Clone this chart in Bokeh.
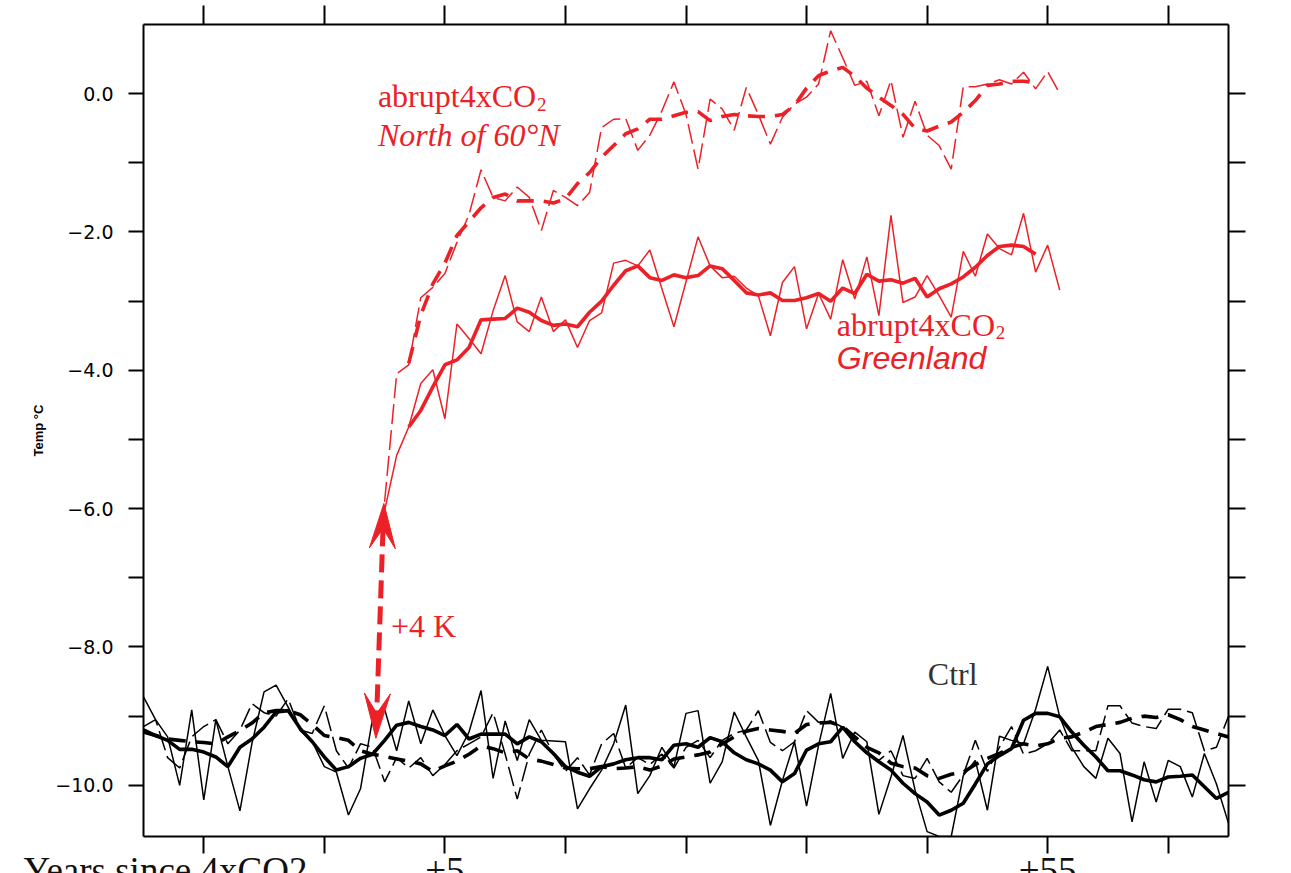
import math
from bokeh.plotting import figure
from bokeh.models import (Range1d, LinearAxis, FixedTicker, Label, CustomJSTickFormatter)
from bokeh.embed import file_html
from bokeh.resources import INLINE

RED = "#EC2127"

# ---------------- data ----------------
years_4x = list(range(0, 57))
years_4x_smooth = list(range(2, 55))
years_ctrl = list(range(-20, 71))

greenland_annual = [-6.03, -5.23, -4.82, -4.19, -3.99, -4.70, -3.33, -3.54, -3.76, -3.14,
                    -2.63, -3.30, -3.44, -2.94, -3.44, -3.27, -3.67, -3.28, -3.17, -2.45,
                    -2.41, -2.49, -2.26, -2.82, -3.37, -2.72, -2.07, -2.49, -2.66, -2.64,
                    -2.81, -2.92, -3.50, -2.73, -2.50, -3.40, -2.89, -3.26, -2.40, -2.97,
                    -2.36, -3.21, -1.76, -3.02, -2.94, -2.63, -2.92, -3.23, -2.28, -2.64,
                    -2.03, -2.24, -2.33, -1.73, -2.58, -2.19, -2.84]
greenland_smooth = [-4.82, -4.58, -4.24, -3.92, -3.85, -3.67, -3.27, -3.26, -3.25, -3.10,
                    -3.16, -3.28, -3.35, -3.33, -3.37, -3.16, -3.00, -2.77, -2.56, -2.49,
                    -2.66, -2.70, -2.62, -2.66, -2.63, -2.49, -2.53, -2.70, -2.88, -2.91,
                    -2.88, -2.99, -2.99, -2.95, -2.89, -3.00, -2.81, -2.89, -2.61, -2.71,
                    -2.69, -2.74, -2.67, -2.94, -2.82, -2.75, -2.65, -2.51, -2.34, -2.21,
                    -2.19, -2.21, -2.32]
n60_annual = [-5.90, -4.05, -3.92, -2.95, -2.80, -2.60, -2.15, -1.75, -1.10, -1.50,
              -1.55, -1.35, -1.50, -1.98, -1.40, -1.50, -1.62, -1.43, -0.49, -0.37,
              -0.36, -0.82, -0.60, -0.25, 0.17, -0.30, -1.09, -0.08, -0.22, -0.53,
              0.09, -0.30, -0.73, -0.34, -0.15, -0.05, 0.14, 0.91, 0.52, 0.12,
              0.18, -0.32, 0.19, -0.63, -0.11, -0.60, -0.75, -1.09, 0.10, 0.10,
              0.14, 0.20, 0.14, 0.31, 0.07, 0.32, 0.00]
n60_smooth = [-3.90, -3.20, -2.75, -2.45, -2.05, -1.85, -1.65, -1.50, -1.45, -1.55,
              -1.55, -1.55, -1.58, -1.52, -1.30, -1.14, -0.92, -0.75, -0.58, -0.51,
              -0.37, -0.37, -0.32, -0.27, -0.26, -0.39, -0.33, -0.30, -0.32, -0.33,
              -0.33, -0.30, -0.17, 0.08, 0.26, 0.33, 0.38, 0.25, 0.08, -0.05,
              -0.17, -0.30, -0.50, -0.54, -0.47, -0.41, -0.27, -0.10, 0.12, 0.14,
              0.18, 0.18, 0.16]

ctrl_gl_annual = [-8.72, -9.05, -9.30, -10.00, -8.91, -10.21, -9.05, -9.73, -10.37, -9.39,
                  -8.65, -8.55, -8.87, -9.21, -9.37, -9.73, -9.81, -10.43, -10.05, -9.04,
                  -8.90, -9.50, -8.78, -9.40, -8.91, -9.28, -9.57, -9.23, -8.63, -9.90,
                  -9.07, -9.64, -9.05, -9.35, -9.36, -9.37, -10.34, -10.05, -9.78, -9.40,
                  -8.84, -10.12, -9.86, -9.45, -9.73, -8.96, -8.92, -9.97, -9.66, -8.94,
                  -9.30, -9.64, -10.58, -9.93, -9.37, -10.30, -9.42, -8.67, -9.61, -9.23,
                  -9.37, -10.42, -9.88, -9.28, -10.07, -10.67, -10.74, -10.74, -9.86, -9.64,
                  -10.36, -9.29, -9.35, -9.40, -8.90, -8.28, -9.01, -9.45, -9.73, -9.90,
                  -9.32, -9.54, -10.53, -9.66, -10.24, -9.64, -9.73, -10.17, -9.54, -9.98,
                  -10.55]
ctrl_gl_smooth = [-9.23, -9.28, -9.35, -9.48, -9.48, -9.52, -9.59, -9.73, -9.45, -9.33,
                  -9.16, -8.94, -8.92, -9.18, -9.37, -9.59, -9.78, -9.73, -9.61, -9.55,
                  -9.35, -9.13, -9.09, -9.15, -9.20, -9.28, -9.12, -9.33, -9.26, -9.26,
                  -9.26, -9.40, -9.30, -9.37, -9.54, -9.73, -9.81, -9.87, -9.73, -9.69,
                  -9.63, -9.60, -9.60, -9.63, -9.42, -9.40, -9.45, -9.31, -9.37, -9.53,
                  -9.63, -9.69, -9.78, -9.95, -9.83, -9.49, -9.40, -9.37, -9.16, -9.37,
                  -9.53, -9.66, -9.78, -9.97, -10.12, -10.24, -10.43, -10.36, -10.26, -9.98,
                  -9.69, -9.57, -9.47, -9.06, -8.96, -8.96, -9.01, -9.23, -9.42, -9.59,
                  -9.79, -9.79, -9.85, -9.92, -9.95, -9.88, -9.87, -9.85, -10.02, -10.19,
                  -10.10]
ctrl_n60_annual = [-9.15, -9.05, -9.60, -9.75, -9.30, -9.15, -9.05, -9.40, -9.20, -8.82,
                   -8.95, -9.00, -8.75, -9.20, -9.25, -8.85, -9.50, -9.75, -9.40, -9.45,
                   -9.95, -9.60, -9.75, -9.60, -9.86, -9.70, -9.50, -9.40, -9.30, -8.95,
                   -9.55, -10.20, -9.55, -9.20, -9.55, -9.80, -9.60, -9.85, -9.40, -9.25,
                   -9.75, -9.60, -9.70, -9.55, -9.75, -9.45, -9.35, -9.60, -9.35, -9.25,
                   -9.20, -8.92, -9.38, -9.50, -9.37, -8.92, -9.09, -9.07, -9.16, -9.37,
                   -9.54, -9.64, -9.50, -9.86, -9.90, -9.61, -9.95, -10.10, -9.85, -9.35,
                   -9.80, -9.45, -9.15, -9.55, -9.50, -9.40, -9.20, -9.50, -9.50, -9.50,
                   -8.85, -8.85, -9.10, -9.15, -9.18, -8.90, -8.90, -8.95, -9.50, -9.45,
                   -9.00]
ctrl_n60_smooth = [-9.20, -9.28, -9.33, -9.35, -9.37, -9.38, -9.40, -9.30, -9.21, -9.10,
                   -8.95, -8.92, -8.92, -8.98, -9.12, -9.28, -9.31, -9.35, -9.50, -9.55,
                   -9.58, -9.62, -9.65, -9.69, -9.80, -9.72, -9.65, -9.55, -9.43, -9.47,
                   -9.53, -9.50, -9.62, -9.65, -9.70, -9.75, -9.76, -9.76, -9.73, -9.76,
                   -9.75, -9.73, -9.78, -9.72, -9.62, -9.59, -9.56, -9.52, -9.40, -9.30,
                   -9.22, -9.18, -9.20, -9.22, -9.25, -9.12, -9.10, -9.09, -9.15, -9.30,
                   -9.45, -9.53, -9.68, -9.73, -9.75, -9.86, -9.90, -9.84, -9.81, -9.70,
                   -9.61, -9.54, -9.45, -9.40, -9.43, -9.40, -9.32, -9.30, -9.23, -9.15,
                   -9.12, -9.09, -9.03, -9.00, -9.02, -8.98, -9.05, -9.15, -9.20, -9.25,
                   -9.30]

x_ticks = [-15, -5, 5, 15, 25, 35, 45, 55, 65]
x_tick_labels = {"5": "+5", "55": "+55"}
x_title = "Years since 4xCO2"
y_ticks = list(range(-10, 1))
y_title = "Temp \u00b0C"

# --------------- helpers: page pixel -> data (annotation placement only) -------
def X(px):
    return 5 + (px - 444) / 12.056

def Y(py):
    return (93 - py) / 69.2

# ---------------- figure ----------------
p = figure(width=1291, height=900, x_range=Range1d(-20, 70), y_range=Range1d(-10.74, 1.0),
           output_backend="svg", toolbar_location=None,
           x_axis_location=None, y_axis_location=None,
           min_border_left=143, min_border_right=63, min_border_top=24, min_border_bottom=64)
p.outline_line_color = None
p.background_fill_color = "white"
p.border_fill_color = "white"
p.grid.visible = False

yfmt = CustomJSTickFormatter(code="""
if (Math.abs(Math.round(tick)) % 2 == 1) { return ''; }
var s = Math.abs(tick).toFixed(1);
return (tick < 0 ? '\u2212' : '') + s;
""")
blank = CustomJSTickFormatter(code="return '';")


def tick_axis(ticks, out):
    ax = LinearAxis(ticker=FixedTicker(ticks=ticks), formatter=blank)
    ax.axis_line_width = 2
    ax.axis_line_color = "black"
    ax.major_tick_line_width = 2
    ax.major_tick_line_color = "black"
    ax.major_tick_out = out
    ax.major_tick_in = 0
    ax.minor_tick_out = 0
    ax.minor_tick_in = 0
    ax.major_label_text_font_size = "1px"
    ax.major_label_standoff = 0
    return ax

left = tick_axis(y_ticks, 15)
left.formatter = yfmt
left.major_label_text_font = "DejaVu Sans"
left.major_label_text_font_size = "19px"
left.major_label_text_color = "black"
left.major_label_standoff = 15
left.axis_label = y_title
left.axis_label_text_font = "Liberation Sans"
left.axis_label_text_font_size = "13px"
left.axis_label_text_font_style = "bold"
left.axis_label_text_color = "black"
left.axis_label_standoff = 6
p.add_layout(left, "left")
p.add_layout(tick_axis(y_ticks, 17), "right")
p.add_layout(tick_axis(x_ticks, 19), "above")
p.add_layout(tick_axis(x_ticks, 17), "below")

# second bottom axis carries only the (large) bottom texts
title_pos = X(164.5)
lab_ticks = [title_pos] + [float(k) for k in x_tick_labels]
xfmt = CustomJSTickFormatter(args=dict(labs=x_tick_labels, title=x_title), code="""
var k = String(Math.round(tick));
if (Math.abs(tick - Math.round(tick)) < 1e-6 && (k in labs)) { return labs[k]; }
return title;
""")
bot = LinearAxis(ticker=FixedTicker(ticks=lab_ticks), formatter=xfmt)
bot.axis_line_color = None
bot.major_tick_out = 0
bot.major_tick_in = 0
bot.minor_tick_out = 0
bot.minor_tick_in = 0
bot.major_label_text_font = "Liberation Serif"
bot.major_label_text_font_size = "37px"
bot.major_label_text_color = "#111111"
bot.major_label_standoff = -4
p.add_layout(bot, "below")

# ---------------- lines ----------------
THIN = 1.5
THICK = 3.6
p.line(years_ctrl, ctrl_n60_annual, line_color="black", line_width=THIN, line_dash="20 6")
p.line(years_ctrl, ctrl_gl_annual, line_color="black", line_width=THIN)
p.line(years_ctrl, ctrl_n60_smooth, line_color="black", line_width=THICK, line_dash="17 10")
p.line(years_ctrl, ctrl_gl_smooth, line_color="black", line_width=THICK)

p.line(years_4x, n60_annual, line_color=RED, line_width=THIN, line_dash="20 6")
p.line(years_4x, greenland_annual, line_color=RED, line_width=THIN)
p.line(years_4x_smooth, n60_smooth, line_color=RED, line_width=THICK, line_dash="17 10")
p.line(years_4x_smooth, greenland_smooth, line_color=RED, line_width=THICK)

# ---------------- double arrow (+4 K) ----------------
tip_top = (383.0, 503.0)
tip_bot = (375.0, 738.0)
HEAD_L, HEAD_W, NOTCH = 45.0, 13.0, 25.0
dx, dy = tip_bot[0] - tip_top[0], tip_bot[1] - tip_top[1]
norm = math.hypot(dx, dy)
ux, uy = dx / norm, dy / norm
px_, py_ = uy, -ux

def head(tip, sx, sy):
    bx, by = tip[0] + sx * HEAD_L, tip[1] + sy * HEAD_L
    nx, ny = tip[0] + sx * NOTCH, tip[1] + sy * NOTCH
    pts = [tip, (bx + px_ * HEAD_W, by + py_ * HEAD_W), (nx, ny),
           (bx - px_ * HEAD_W, by - py_ * HEAD_W)]
    return [X(a) for a, b in pts], [Y(b) for a, b in pts], (nx, ny)

hx1, hy1, n1 = head(tip_top, ux, uy)
hx2, hy2, n2 = head(tip_bot, -ux, -uy)
p.line([X(n1[0]), X(n2[0])], [Y(n1[1]), Y(n2[1])], line_color=RED, line_width=5,
       line_dash="18 8")
p.patch(hx1, hy1, fill_color=RED, line_color=RED, line_width=1)
p.patch(hx2, hy2, fill_color=RED, line_color=RED, line_width=1)

# ---------------- texts ----------------
def lab(px, py, text, font="Liberation Serif", size="32px", color=RED, style="normal",
        align="left", baseline="alphabetic"):
    p.add_layout(Label(x=X(px), y=Y(py), text=text, text_font=font, text_font_size=size,
                       text_color=color, text_font_style=style, text_align=align,
                       text_baseline=baseline))

lab(377, 95, "abrupt4xCO")
lab(536, 104, "2", size="19px")
lab(377, 134, "North of 60\u00b0N", style="italic")
lab(836, 324, "abrupt4xCO")
lab(995, 332, "2", size="19px")
lab(836, 357, "Greenland", font="Liberation Sans", style="italic")
lab(390, 626, "+4 K")
lab(927, 674, "Ctrl", color="#333333")

html = file_html(p, INLINE)
html = html.replace("<head>", "<head><style>html,body{margin:0;overflow:hidden;}</style>", 1)
open("out.html", "w").write(html)
